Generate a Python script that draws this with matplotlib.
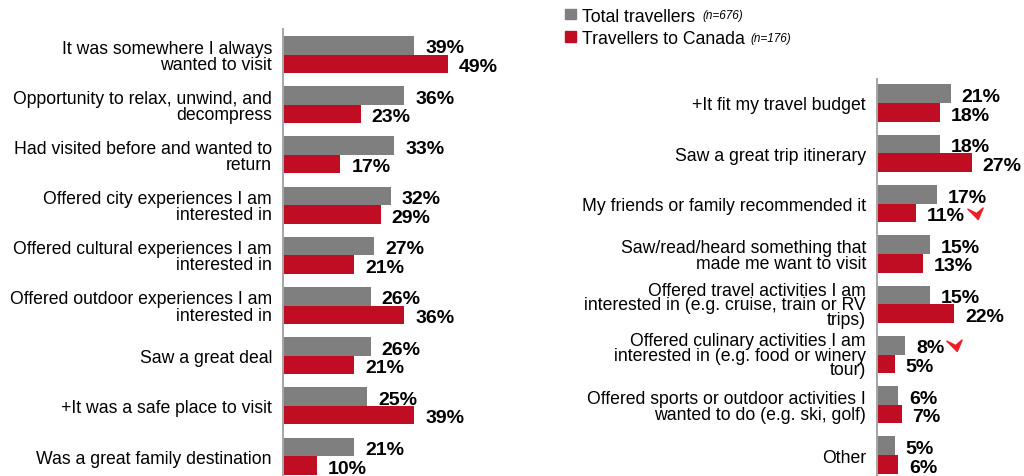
import matplotlib
matplotlib.use("Agg")
import matplotlib.pyplot as plt
from matplotlib.path import Path
import numpy as np

plt.rcParams['font.family'] = ['Liberation Sans', 'DejaVu Sans']

# ---------------- data ----------------
left_labels = [
    "It was somewhere I always\nwanted to visit",
    "Opportunity to relax, unwind, and\ndecompress",
    "Had visited before and wanted to\nreturn",
    "Offered city experiences I am\ninterested in",
    "Offered cultural experiences I am\ninterested in",
    "Offered outdoor experiences I am\ninterested in",
    "Saw a great deal",
    "+It was a safe place to visit",
    "Was a great family destination",
]
left_total = [39, 36, 33, 32, 27, 26, 26, 25, 21]
left_canada = [49, 23, 17, 29, 21, 36, 21, 39, 10]

right_labels = [
    "+It fit my travel budget",
    "Saw a great trip itinerary",
    "My friends or family recommended it",
    "Saw/read/heard something that\nmade me want to visit",
    "Offered travel activities I am\ninterested in (e.g. cruise, train or RV\ntrips)",
    "Offered culinary activities I am\ninterested in (e.g. food or winery\ntour)",
    "Offered sports or outdoor activities I\nwanted to do (e.g. ski, golf)",
    "Other",
]
right_total = [21, 18, 17, 15, 15, 8, 6, 5]
right_canada = [18, 27, 11, 13, 22, 5, 7, 6]

# significance markers: (panel, series, index)
sig_marks = [("right", "canada", 2), ("right", "total", 5)]

series_names = ["Total travellers", "Travellers to Canada"]
series_n = ["(n=676)", "(n=176)"]

GRAY = "#7F7F7F"
RED = "#C00D23"
MARK_RED = "#EE1C25"
SPINE = "#A6A6A6"

W, H = 1024, 477
fig = plt.figure(figsize=(W / 100, H / 100), dpi=100)


def px_axes(x0, top, x1, bottom):
    return fig.add_axes([x0 / W, 1 - bottom / H, (x1 - x0) / W, (bottom - top) / H])


bar_h = 0.37


def make_panel(ax, labels, total, canada, xmax, first_center, pitch, top):
    n = len(labels)
    y = np.arange(n)
    ax.barh(y - bar_h / 2, total, height=bar_h, color=GRAY, edgecolor='none')
    ax.barh(y + bar_h / 2, canada, height=bar_h, color=RED, edgecolor='none')
    ax.set_xlim(0, xmax)
    ax.set_ylim((H - first_center) / pitch, -(first_center - top) / pitch)
    for s in ['top', 'right', 'bottom']:
        ax.spines[s].set_visible(False)
    ax.spines['left'].set_color(SPINE)
    ax.spines['left'].set_linewidth(1.4)
    ax.set_xticks([])
    ax.set_yticks(y)
    ax.set_yticklabels(labels, fontsize=12.7, color="#000000")
    ax.tick_params(axis='y', length=0, pad=8)
    for lbl in ax.get_yticklabels():
        nlines = lbl.get_text().count("\n") + 1
        lbl.set_linespacing(0.93 if nlines <= 2 else 0.8)
    texts = {"total": [], "canada": []}
    for i in range(n):
        t1 = ax.annotate(f"{total[i]}%", (total[i], i - bar_h / 2), xytext=(8, -2),
                         textcoords='offset points', va='center', ha='left',
                         fontsize=14, fontweight='bold')
        t2 = ax.annotate(f"{canada[i]}%", (canada[i], i + bar_h / 2), xytext=(8, -2),
                         textcoords='offset points', va='center', ha='left',
                         fontsize=14, fontweight='bold')
        texts["total"].append(t1)
        texts["canada"].append(t2)
    return texts


axL = px_axes(283, 30, 283 + 60 * 3.37, H)
axR = px_axes(877, 80, 877 + 42 * 3.5, H)

texts_L = make_panel(axL, left_labels, left_total, left_canada, 60, 55.5, 50.2, 30)
texts_R = make_panel(axR, right_labels, right_total, right_canada, 42, 104, 50.3, 80)

# legend (manual)
leg_colors = [GRAY, RED]
leg_y = [15, 37.5]
n_x = [702, 750]
for c, yy, name, nn, nx in zip(leg_colors, leg_y, series_names, series_n, n_x):
    fig.patches.append(plt.Rectangle((565 / W, 1 - (yy + 5) / H), 10.5 / W, 10.5 / H,
                                     transform=fig.transFigure, color=c))
    fig.text(582 / W, 1 - yy / H, name, fontsize=12.7, va='center_baseline', ha='left')
    fig.text(nx / W, 1 - yy / H, nn, fontsize=8.5, style='italic', va='center_baseline', ha='left')

# significance markers (red arrowheads)
verts = [(-7.0, 4.0), (1.0, 0.0), (7.0, 5.0), (2.5, -5.5), (-7.0, 4.0)]
codes = [Path.MOVETO, Path.LINETO, Path.LINETO, Path.LINETO, Path.CLOSEPOLY]
arrow_marker = Path(verts, codes)

fig.canvas.draw()
renderer = fig.canvas.get_renderer()
for panel, series, idx in sig_marks:
    ax = axR if panel == "right" else axL
    texts = texts_R if panel == "right" else texts_L
    t = texts[series][idx]
    bb = t.get_window_extent(renderer)
    yc = idx - bar_h / 2 if series == "total" else idx + bar_h / 2
    xd = bb.x1 + 10
    _, yd = ax.transData.transform((0, yc))
    xdata, ydata = ax.transData.inverted().transform((xd, yd))
    ax.plot([xdata], [ydata], marker=arrow_marker, markersize=11, color=MARK_RED,
            linestyle='none', clip_on=False)

fig.savefig("out.png", dpi=100)
